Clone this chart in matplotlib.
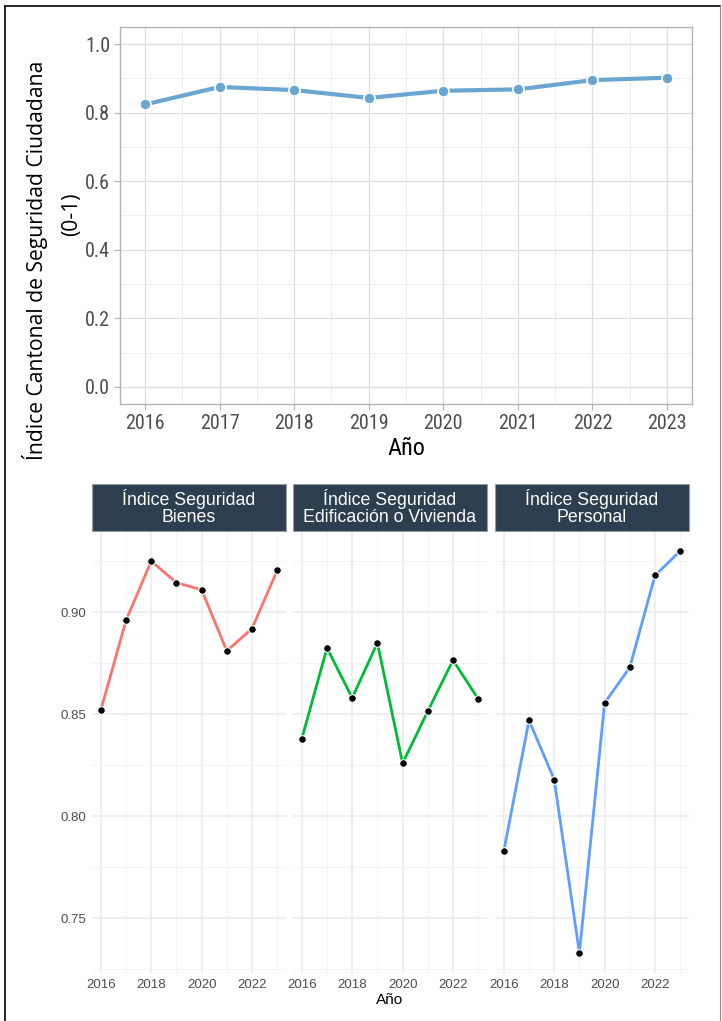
import matplotlib
matplotlib.use("Agg")
import matplotlib.pyplot as plt
from matplotlib import font_manager
from matplotlib.font_manager import FontProperties
from matplotlib.patches import Rectangle
from matplotlib.lines import Line2D

# ---- data ----
years = [2016, 2017, 2018, 2019, 2020, 2021, 2022, 2023]
indice_cantonal = [0.824, 0.875, 0.866, 0.843, 0.864, 0.868, 0.895, 0.902]

facet_names = ["Índice Seguridad\nBienes",
               "Índice Seguridad\nEdificación o Vivienda",
               "Índice Seguridad\nPersonal"]
bienes = [0.852, 0.896, 0.925, 0.9145, 0.911, 0.881, 0.892, 0.9205]
edificacion = [0.838, 0.8825, 0.858, 0.885, 0.826, 0.8515, 0.8765, 0.8575]
personal = [0.783, 0.847, 0.818, 0.733, 0.8555, 0.873, 0.918, 0.930]
facet_values = [bienes, edificacion, personal]
facet_colors = ["#F8766D", "#00BA38", "#619CFF"]

top_yticks = [0.0, 0.2, 0.4, 0.6, 0.8, 1.0]
bottom_yticks = [0.75, 0.80, 0.85, 0.90]
bottom_xticks = [2016, 2018, 2020, 2022]

W, H = 722, 1021
SANS = "Liberation Sans"


# narrow font for the top chart (Arial Narrow look) if one is around
def _rank(fn):
    if "liberation" in fn:
        return 0
    if "roboto" in fn:
        return 1
    if "dejavu" in fn:
        return 3
    return 2


narrow_file, best = None, 99
for f in font_manager.fontManager.ttflist:
    fn = f.fname.lower()
    if not ("narrow" in fn or "condensed" in fn):
        continue
    if any(k in fn for k in ("bold", "italic", "oblique", "light", "thin", "medium", "black")):
        continue
    r = _rank(fn)
    if r < best:
        narrow_file, best = f.fname, r

if narrow_file:
    def narrow(size):
        return FontProperties(fname=narrow_file, size=size)
    tick_size = 14.5
else:
    def narrow(size):
        return FontProperties(family=SANS, size=size)
    tick_size = 12.5

fig = plt.figure(figsize=(W / 100, H / 100), dpi=100, facecolor="white")


def px_axes(x0, y0, x1, y1, **kw):
    """axes from pixel box (top-left origin)"""
    return fig.add_axes([x0 / W, 1 - y1 / H, (x1 - x0) / W, (y1 - y0) / H], **kw)


# ---- top chart ----
ax = px_axes(120, 27, 692, 404)
ax.plot(years, indice_cantonal, color="#6BA6D3", lw=3.0, marker="o", ms=8,
        mfc="#6BA6D3", mec="white", mew=1.2, solid_capstyle="round", zorder=3)
ax.set_xlim(2015.665, 2023.335)
ax.set_ylim(-0.05, 1.05)
ax.set_xticks(years)
ax.set_xticks([y + 0.5 for y in years[:-1]], minor=True)
ax.set_yticks(top_yticks)
ax.set_yticks([0.1, 0.3, 0.5, 0.7, 0.9], minor=True)
ax.set_yticklabels([f"{v:.1f}" for v in top_yticks])
ax.grid(which="major", color="#DEDEDE", lw=0.9)
ax.grid(which="minor", color="#EBEBEB", lw=0.6)
ax.set_axisbelow(True)
for s in ax.spines.values():
    s.set_color("#B3B3B3")
    s.set_linewidth(1.0)
ax.tick_params(which="major", colors="#B3B3B3", length=4, width=0.8,
               labelcolor="#4D4D4D", pad=3)
ax.tick_params(which="minor", length=0)
for lab in ax.get_xticklabels() + ax.get_yticklabels():
    lab.set_fontproperties(narrow(tick_size))
ax.set_xlabel("Año", fontproperties=narrow(tick_size + 3), color="black", labelpad=3)

# y label drawn as two lines, as in the reference
fig.text(35 / W, 1 - 260 / H, "Índice Cantonal de Seguridad Ciudadana", rotation=90,
         ha="center", va="center", fontsize=15.2, family="Open Sans", color="black")
fig.text(72 / W, 1 - 214 / H, "(0-1)", rotation=90,
         ha="center", va="center", fontsize=15.2, family="Open Sans", color="black")

# ---- facets ----
panels = [(92, 286), (293, 487), (495, 689)]
for i, ((x0, x1), name, vals, col) in enumerate(zip(panels, facet_names, facet_values, facet_colors)):
    a = px_axes(x0, 531, x1, 973)
    a.plot(years, vals, color=col, lw=2.0, zorder=2)
    a.plot(years, vals, ls="none", marker="o", ms=5.5, mfc="black", mec="white",
           mew=0.8, zorder=3)
    a.set_xlim(2015.65, 2023.35)
    a.set_ylim(0.7232, 0.9398)
    a.set_xticks(bottom_xticks)
    a.set_xticks([2017, 2019, 2021, 2023], minor=True)
    a.set_yticks(bottom_yticks)
    a.set_yticks([0.725, 0.775, 0.825, 0.875, 0.925], minor=True)
    a.grid(which="major", color="#EBEBEB", lw=1.1)
    a.grid(which="minor", color="#F3F3F3", lw=0.7)
    a.set_axisbelow(True)
    for s in a.spines.values():
        s.set_visible(False)
    a.tick_params(which="both", length=0, labelcolor="#4D4D4D", labelsize=9.5, pad=4)
    if i == 0:
        a.set_yticklabels([f"{v:.2f}" for v in bottom_yticks])
    else:
        a.set_yticklabels([])
    for lab in a.get_xticklabels() + a.get_yticklabels():
        lab.set_fontfamily(SANS)
    if i == 1:
        a.set_xlabel("Año", fontsize=11, family=SANS, color="black", labelpad=2)

    # strip
    fig.add_artist(Rectangle((x0 / W, 1 - 531 / H), (x1 - x0) / W, 47 / H,
                             transform=fig.transFigure, facecolor="#2C3E50",
                             edgecolor="#9A9A9A", lw=0.8))
    fig.text((x0 + x1) / 2 / W, 1 - 507.5 / H, name, ha="center", va="center",
             color="white", fontsize=12.8, family=SANS, linespacing=1.05)

# ---- outer frame lines ----
fig.add_artist(Line2D([5 / W, 5 / W], [0, 1 - 6 / H], transform=fig.transFigure,
                      color="black", lw=1.2))
fig.add_artist(Line2D([5 / W, 720 / W], [1 - 6 / H, 1 - 6 / H], transform=fig.transFigure,
                      color="black", lw=1.2))
fig.add_artist(Line2D([720 / W, 720 / W], [0, 1 - 6 / H], transform=fig.transFigure,
                      color="#8A8A8A", lw=0.8))

fig.savefig("out.png", dpi=100, facecolor="white")
